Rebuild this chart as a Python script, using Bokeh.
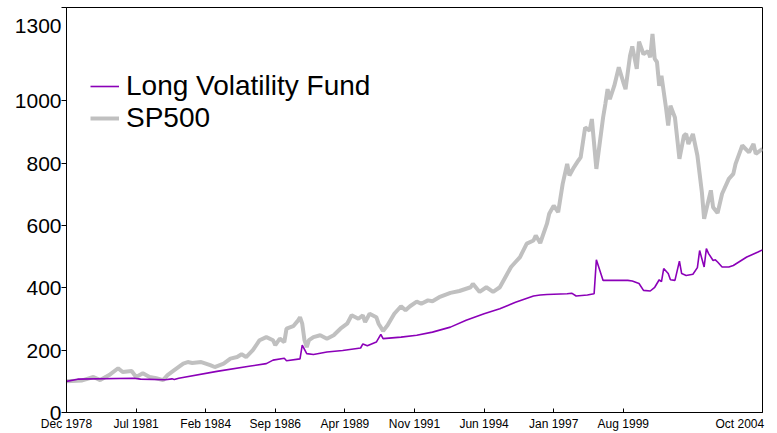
from bokeh.plotting import figure
from bokeh.models import FixedTicker, Legend, LegendItem
from bokeh.embed import file_html
from bokeh.resources import INLINE

# Month index 0 = Dec 1978, 310 = Oct 2004
tick_months = [0, 31, 62, 93, 124, 155, 186, 217, 248, 310]
tick_labels = ["Dec 1978", "Jul 1981", "Feb 1984", "Sep 1986", "Apr 1989",
               "Nov 1991", "Jun 1994", "Jan 1997", "Aug 1999", "Oct 2004"]
y_ticks = [0, 200, 400, 600, 800, 1000, 1300]

sp_month = [0, 7, 12, 15, 19, 23, 25, 29, 31, 34, 37, 40, 43, 45, 48, 52, 54, 56, 60,
            64, 66, 70, 73, 76, 78, 80, 83, 86, 89, 92, 93, 95, 97, 98, 101, 103, 104,
            105, 106, 107, 108, 110, 113, 116, 119, 122, 125, 127, 130, 132, 133, 135,
            138, 139, 141, 143, 146, 149, 151, 153, 156, 158, 161, 163, 166, 171, 175,
            180, 181, 184, 187, 190, 193, 198, 200, 202, 205, 208, 209, 211, 214, 215,
            217, 219, 221, 223, 224, 226, 228, 229, 231, 233, 234, 236, 239, 240, 241,
            242, 244, 246, 248, 249, 251, 252, 254, 255, 257, 259, 260, 261, 262, 263,
            264, 265, 267, 268, 269, 271, 273, 275, 276, 277, 279, 281, 283, 284, 287,
            288, 290, 292, 295, 297, 298, 301, 304, 306, 307, 310]
sp_value = [100, 103, 114, 104, 120, 142, 130, 133, 114, 126, 114, 110, 104, 120, 136,
            157, 162, 159, 162, 152, 146, 157, 173, 178, 187, 178, 200, 232, 242, 232,
            216, 237, 226, 269, 277, 294, 306, 285, 232, 210, 232, 242, 248, 237, 248,
            269, 285, 312, 301, 312, 290, 317, 306, 285, 262, 280, 317, 341, 328, 341,
            356, 349, 360, 357, 370, 384, 390, 402, 413, 387, 402, 387, 402, 467, 483,
            499, 542, 552, 568, 544, 606, 638, 664, 643, 734, 798, 761, 787, 809, 819,
            915, 905, 942, 782, 947, 990, 1038, 1006, 1049, 1108, 1060, 1038, 1145,
            1175, 1103, 1190, 1150, 1160, 1140, 1215, 1135, 1125, 1049, 1081, 979, 921,
            985, 947, 814, 889, 894, 862, 894, 825, 707, 622, 713, 659, 640, 702, 750,
            766, 798, 857, 835, 862, 830, 846]

fund_month = [0, 5, 30, 33, 44, 47, 48, 50, 67, 82, 89, 92, 97, 98, 104, 105, 107, 110,
              116, 123, 131, 132, 134, 138, 140, 141, 149, 156, 163, 171, 178, 186, 193,
              200, 208, 211, 214, 223, 225, 227, 232, 235, 236, 239, 250, 252, 255, 257,
              260, 262, 264, 265, 266, 268, 269, 271, 273, 274, 276, 279, 281, 282, 284,
              285, 286, 288, 289, 290, 292, 295, 297, 303, 308, 310]
fund_value = [100, 107, 110, 107, 105, 108, 106, 110, 132, 149, 157, 168, 174, 166, 172,
              216, 189, 186, 194, 199, 207, 220, 214, 226, 251, 237, 242, 248, 258, 274,
              296, 317, 333, 354, 374, 377, 379, 381, 383, 374, 377, 381, 490, 424, 424,
              422, 414, 392, 390, 402, 426, 420, 462, 446, 426, 424, 486, 446, 440, 444,
              465, 520, 467, 526, 510, 488, 490, 483, 467, 467, 472, 499, 515, 522]

p = figure(width=777, height=433, output_backend="svg", toolbar_location=None,
           x_range=(0, 310), y_range=(0, 1300),
           min_border_left=66, min_border_right=15, min_border_top=7, min_border_bottom=21)
p.background_fill_color = "white"
p.border_fill_color = "white"
p.outline_line_color = "black"
p.outline_line_width = 1
p.grid.visible = False

r_sp = p.line(sp_month, sp_value, line_color="#C0C0C0", line_width=4)
r_fund = p.line(fund_month, fund_value, line_color="#8B00B8", line_width=1.6)

NB = "\u00a0"
xa = p.xaxis[0]
xa.ticker = FixedTicker(ticks=tick_months)
xa.major_label_overrides = {m: (lab if m != 310 else lab + NB * 4)
                            for m, lab in zip(tick_months, tick_labels)}
xa.major_tick_in = 4
xa.major_tick_out = 0
xa.minor_tick_line_color = None
xa.axis_line_color = "black"
xa.major_tick_line_color = "black"
xa.major_label_text_font = "Liberation Sans"
xa.major_label_text_font_size = "12px"
xa.major_label_text_color = "black"
xa.major_label_standoff = 4

ya = p.yaxis[0]
ya.ticker = FixedTicker(ticks=y_ticks)
ya.major_label_overrides = {v: (str(v) if v != 1300 else "\n1300") for v in y_ticks}
ya.major_label_text_line_height = 0.6
ya.major_tick_in = 0
ya.major_tick_out = 5
ya.minor_tick_line_color = None
ya.axis_line_color = "black"
ya.major_tick_line_color = "black"
ya.major_label_text_font = "Liberation Sans"
ya.major_label_text_font_size = "21px"
ya.major_label_text_color = "black"
ya.major_label_standoff = 0

legend = Legend(items=[LegendItem(label="Long Volatility Fund", renderers=[r_fund]),
                       LegendItem(label="SP500", renderers=[r_sp])],
                location=(24, 278), padding=0, margin=0, spacing=0,
                glyph_width=29, glyph_height=32, label_height=32,
                label_standoff=7, label_text_font="Liberation Sans",
                label_text_font_size="28px", label_text_color="black",
                background_fill_alpha=0, border_line_color=None)
p.add_layout(legend)

open("out.html", "w").write(file_html(p, INLINE))
